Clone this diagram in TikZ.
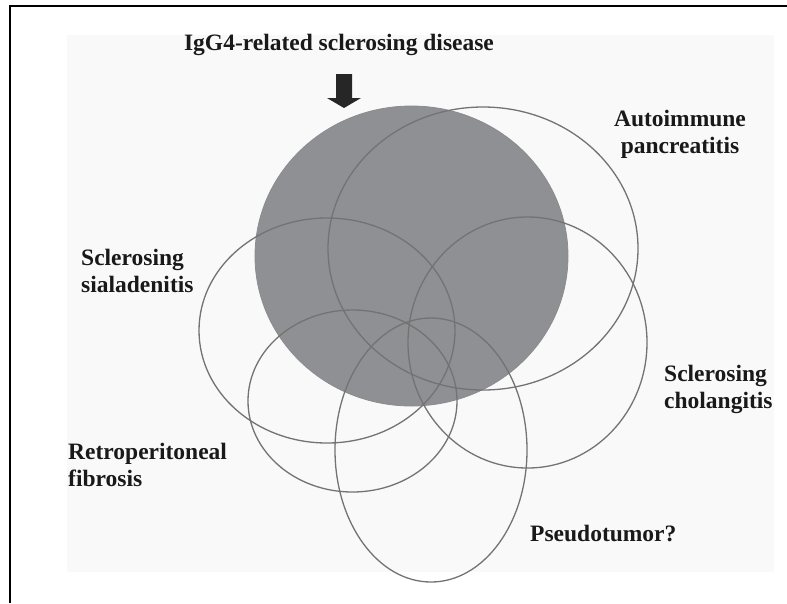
\documentclass[tikz,border=0pt]{standalone}
\usepackage{fontspec}
\setmainfont{Liberation Serif}
\begin{document}
\begin{tikzpicture}[x=1pt,y=-1pt,
  lbl/.style={font=\fontsize{23.5}{27}\selectfont\bfseries, inner sep=0pt, text=black!90},
  ring/.style={draw=black!55, line width=1.3pt},
  frameline/.style={draw=black, line width=2pt}]
\useasboundingbox (0,0) rectangle (787,603);
\definecolor{discgray}{RGB}{143,144,148}
\definecolor{bggray}{RGB}{249,249,249}
% background panel
\fill[bggray] (67,35) rectangle (774,572);
% frame (top and left edges)
\draw[frameline] (10,603) -- (10,6) -- (787,6);
% IgG4-related sclerosing disease (filled disc)
\fill[discgray] (411.5,256) ellipse [x radius=156.5, y radius=150];
\draw[black!45, line width=0.8pt] (411.5,256) ellipse [x radius=156.5, y radius=150];
% overlapping outlines
\draw[ring] (483,248.5) ellipse [x radius=155, y radius=141.5];   % autoimmune pancreatitis
\draw[ring] (327,330.5) ellipse [x radius=128, y radius=112.5];   % sclerosing sialadenitis
\draw[ring] (527.5,342.5) ellipse [x radius=119.5, y radius=125.5]; % sclerosing cholangitis
\draw[ring] (352.5,401) ellipse [x radius=104.5, y radius=91];   % retroperitoneal fibrosis
\draw[ring] (431,450) ellipse [x radius=96, y radius=132];       % pseudotumor
% block arrow
\fill[black!85] (336,74) -- (352,74) -- (352,98) -- (361,98) -- (344,108) -- (327,98) -- (336,98) -- cycle;
% labels
\node[lbl, anchor=north] (title) at (339,34) {IgG4-related sclerosing disease};
\node[lbl, anchor=north, align=center] (aip) at (680,110) {Autoimmune\\pancreatitis};
\node[lbl, anchor=north west, align=left] (sia) at (81,249) {Sclerosing\\sialadenitis};
\node[lbl, anchor=north west, align=left] (rpf) at (68,443) {Retroperitoneal\\fibrosis};
\node[lbl, anchor=north west, align=left] (chol) at (664,365) {Sclerosing\\cholangitis};
\node[lbl, anchor=north west] (pseudo) at (530,525) {Pseudotumor?};
\end{tikzpicture}
\end{document}
